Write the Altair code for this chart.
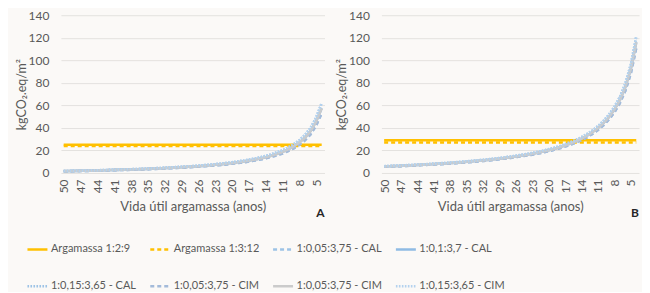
import altair as alt
import pandas as pd

# categories (useful life, years) – Excel category axis, 50 down to 4
years = [50, 49, 48, 47, 46, 45, 44, 43, 42, 41,
         40, 39, 38, 37, 36, 35, 34, 33, 32, 31,
         30, 29, 28, 27, 26, 25, 24, 23, 22, 21,
         20, 19, 18, 17, 16, 15, 14, 13, 12, 11,
         10, 9, 8, 7, 6, 5, 4]
tick_years = [50, 47, 44, 41, 38, 35, 32, 29, 26, 23, 20, 17, 14, 11, 8, 5]

series_keys = ["1|Argamassa 1:2:9", "2|Argamassa 1:3:12", "3|1:0,05:3,75 - CAL",
               "4|1:0,1:3,7 - CAL", "5|1:0,15:3,65 - CAL", "6|1:0,05:3,75 - CIM",
               "7|1:0,05:3,75 - CIM", "8|1:0,15:3,65 - CIM"]
series_colors = ["#FFC000", "#FFC000", "#9DC3E6", "#8FBBE4", "#9DC3E6",
                 "#A4BBDA", "#CBCBCB", "#B4D2EE"]
series_dash = [[1, 0], [4, 3], [4, 3], [1, 0], [1.6, 1.4], [4, 3], [1, 0], [1.6, 1.4]]
series_width = [2.6, 2.6, 2.2, 2.2, 2.2, 2.2, 2.2, 2.4]

# Panel A values (kgCO2.eq/m2)
A_arg_129 = 25
A_arg_1312 = 24
A_high = [1.7, 1.8, 1.9, 2.0, 2.15, 2.3, 2.4, 2.55, 2.7, 2.85,
          3.0, 3.2, 3.35, 3.5, 3.7, 3.9, 4.15, 4.4, 4.6, 4.9,
          5.2, 5.5, 5.8, 6.1, 6.5, 6.9, 7.3, 7.8, 8.3, 8.9,
          9.5, 10.2, 10.9, 11.8, 12.75, 13.8, 15.1, 16.5, 18.2, 20.1,
          22.5, 25.4, 29.0, 33.6, 39.8, 49.0, 62.0]
A_mid = [1.6, 1.7, 1.8, 1.9, 2.0, 2.1, 2.2, 2.4, 2.5, 2.7,
         2.8, 3.0, 3.1, 3.3, 3.4, 3.6, 3.9, 4.1, 4.3, 4.6,
         4.8, 5.1, 5.4, 5.7, 6.0, 6.4, 6.8, 7.3, 7.7, 8.3,
         8.8, 9.5, 10.1, 11.0, 11.9, 12.8, 14.0, 15.3, 16.9, 18.7,
         20.9, 23.6, 27.0, 31.2, 37.0, 45.6, 57.5]
A_low = [1.5, 1.6, 1.7, 1.7, 1.8, 2.0, 2.1, 2.2, 2.3, 2.5,
         2.6, 2.7, 2.9, 3.0, 3.2, 3.4, 3.6, 3.8, 4.0, 4.2,
         4.5, 4.7, 5.0, 5.3, 5.6, 5.9, 6.3, 6.7, 7.1, 7.6,
         8.2, 8.8, 9.4, 10.1, 11.0, 11.9, 13.0, 14.2, 15.7, 17.3,
         19.4, 21.9, 25.0, 28.9, 34.2, 42.1, 53.0]

# Panel B values
B_arg_129 = 29
B_arg_1312 = 27
B_high = [6.0, 6.2, 6.4, 6.6, 6.9, 7.1, 7.4, 7.6, 7.9, 8.2,
          8.5, 8.8, 9.2, 9.5, 9.9, 10.3, 10.7, 11.2, 11.6, 12.1,
          12.7, 13.2, 13.9, 14.5, 15.2, 16.0, 16.8, 17.7, 18.7, 19.8,
          21.0, 22.3, 23.8, 25.4, 27.3, 29.3, 31.7, 34.5, 37.7, 41.5,
          46.0, 51.6, 58.5, 67.4, 79.3, 96.0, 121.0]
B_mid = [5.8, 6.0, 6.1, 6.3, 6.6, 6.8, 7.1, 7.3, 7.6, 7.9,
         8.2, 8.4, 8.8, 9.1, 9.5, 9.9, 10.3, 10.8, 11.1, 11.6,
         12.2, 12.7, 13.3, 13.9, 14.6, 15.4, 16.1, 17.0, 18.0, 19.0,
         20.2, 21.4, 22.8, 24.4, 26.2, 28.1, 30.4, 33.1, 36.2, 39.8,
         44.2, 49.5, 56.2, 64.7, 76.1, 92.2, 116.0]
B_low = [5.5, 5.7, 5.9, 6.1, 6.3, 6.5, 6.8, 7.0, 7.3, 7.5,
         7.8, 8.1, 8.5, 8.7, 9.1, 9.5, 9.8, 10.3, 10.7, 11.1,
         11.7, 12.1, 12.8, 13.3, 14.0, 14.7, 15.5, 16.3, 17.2, 18.2,
         19.3, 20.5, 21.9, 23.4, 25.1, 27.0, 29.2, 31.7, 34.7, 38.2,
         42.3, 47.5, 53.8, 62.0, 73.0, 88.3, 111.0]


def build_df(c1, c2, high, mid, low):
    per_series = [[c1] * len(years), [c2] * len(years), low, mid, high, low, mid, high]
    rows = []
    for key, vals in zip(series_keys, per_series):
        for y, v in zip(years, vals):
            rows.append({"year": y, "value": v, "key": key})
    return pd.DataFrame(rows)


dfA = build_df(A_arg_129, A_arg_1312, A_high, A_mid, A_low)
dfB = build_df(B_arg_129, B_arg_1312, B_high, B_mid, B_low)

FONT = "Lato"
TXT = "#595959"
H = 158

legend = alt.Legend(
    title=None, orient="none", legendX=-35, legendY=223, direction="horizontal",
    columns=4, labelExpr="split(datum.label, '|')[1]", symbolType="stroke",
    symbolSize=400, symbolStrokeWidth=2.2, labelFont=FONT, labelFontSize=11,
    labelColor=TXT, columnPadding=8, rowPadding=20, gridAlign="all",
    labelLimit=200, labelOffset=2,
)


def panel(df, width, letter):
    lines = alt.Chart(df).mark_line().encode(
        x=alt.X("year:O", sort=years, scale=alt.Scale(domain=years),
                axis=alt.Axis(values=tick_years, labelAngle=-90, title="Vida útil argamassa (anos)",
                              labelFont=FONT, labelFontSize=12, labelColor=TXT, ticks=False,
                              domain=False, grid=False, labelPadding=6, labelBaseline="middle",
                              titleFont=FONT, titleFontSize=13, titleColor=TXT, titleFontWeight="normal",
                              titlePadding=8)),
        y=alt.Y("value:Q", scale=alt.Scale(domain=[0, 140]),
                axis=alt.Axis(values=[0, 20, 40, 60, 80, 100, 120, 140], title="kgCO₂.eq/m²",
                              labelFont=FONT, labelFontSize=12, labelColor=TXT, ticks=False,
                              domain=False, gridColor="#e4e2df", labelPadding=12,
                              titleFont=FONT, titleFontSize=12.5, titleColor=TXT, titleFontWeight="normal",
                              titlePadding=0)),
        color=alt.Color("key:N", scale=alt.Scale(domain=series_keys, range=series_colors), legend=legend),
        strokeDash=alt.StrokeDash("key:N", scale=alt.Scale(domain=series_keys, range=series_dash), legend=legend),
        strokeWidth=alt.StrokeWidth("key:N", scale=alt.Scale(domain=series_keys, range=series_width), legend=None),
    )
    tag = alt.Chart(pd.DataFrame({"t": [letter]})).mark_text(
        font=FONT, fontSize=12, fontWeight="bold", color="#262626", align="center", baseline="middle"
    ).encode(text="t:N", x=alt.value(width - 4), y=alt.value(H + 40))
    return alt.layer(lines, tag).properties(width=width, height=H)


chart = alt.hconcat(panel(dfA, 264, "A"), panel(dfB, 258, "B"), spacing=8).properties(
    padding={"left": 7, "top": 1, "right": 0, "bottom": 0},
    background="#fbf9f7",
).configure_view(stroke=None)

chart.save("out.html", embed_options={"renderer": "svg", "actions": False})
